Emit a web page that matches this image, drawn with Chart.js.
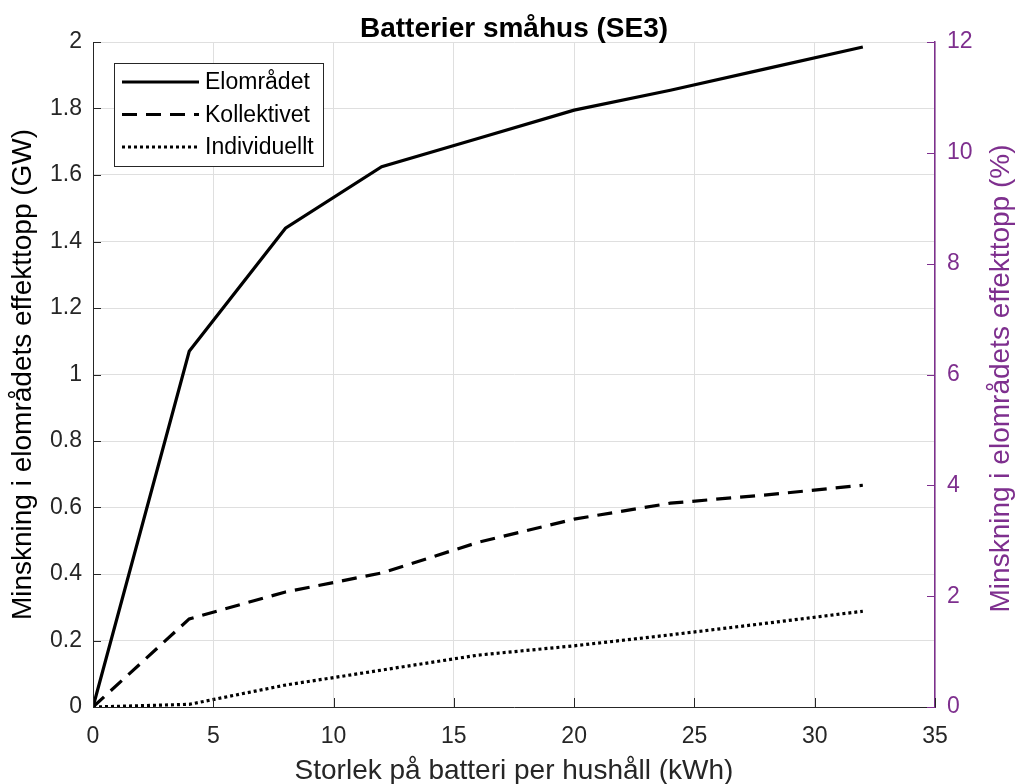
<!DOCTYPE html>
<html>
<head>
<meta charset="utf-8">
<script src="https://cdn.jsdelivr.net/npm/chart.js@4.4.1/dist/chart.umd.min.js"></script>
<style>
    html, body { margin: 0; padding: 0; background: #fff; }
    #wrap { width: 1016px; height: 784px; }
</style>
</head>
<body>
<div id="wrap"><canvas id="myLineChart"></canvas></div>
<script>
// battery size per household (kWh)
const batterySize = [0, 4, 8, 12, 16, 20, 24, 28, 32];

// reduction of peak power (GW)
const elomradet = [0, 1.07, 1.44, 1.625, 1.71, 1.795, 1.855, 1.92, 1.985];
const kollektivet = [0, 0.265, 0.346, 0.403, 0.495, 0.565, 0.613, 0.638, 0.667];
const individuellt = [0, 0.008, 0.066, 0.111, 0.156, 0.184, 0.217, 0.252, 0.288];

const seriesNames = ['Elområdet', 'Kollektivet', 'Individuellt'];

const titleText = 'Batterier småhus (SE3)';
const xTitle = 'Storlek på batteri per hushåll (kWh)';
const yTitle = 'Minskning i elområdets effekttopp (GW)';
const y2Title = 'Minskning i elområdets effekttopp (%)';

const fontFamily = "'Liberation Sans', Arial, Helvetica, sans-serif";
const purple = '#7E2F8E';
const axisColor = '#262626';
const gridColor = '#dfdfdf';

const dashes = [[], [15, 9], [3, 3]];

function toPoints(values) {
    return batterySize.map((x, i) => ({ x: x, y: values[i] }));
}

// draws title, right axis title, inward tick marks and the legend box
const matlabLook = {
    id: 'matlabLook',
    afterDraw(chart) {
        const ctx = chart.ctx;
        const area = chart.chartArea;
        const xs = chart.scales.x;
        const ys = chart.scales.y;
        const ys2 = chart.scales.y2;

        ctx.save();

        // title
        ctx.fillStyle = '#000';
        ctx.font = 'bold 28px ' + fontFamily;
        ctx.textAlign = 'center';
        ctx.textBaseline = 'alphabetic';
        ctx.fillText(titleText, (area.left + area.right) / 2, 37);

        // right axis title, reads bottom to top
        ctx.save();
        ctx.translate(1001, (area.top + area.bottom) / 2 + 4);
        ctx.rotate(-Math.PI / 2);
        ctx.fillStyle = purple;
        ctx.font = '28px ' + fontFamily;
        ctx.textBaseline = 'middle';
        ctx.fillText(y2Title, 0, 0);
        ctx.restore();

        // inward ticks
        ctx.lineWidth = 1;
        ctx.strokeStyle = axisColor;
        ctx.beginPath();
        xs.ticks.forEach(t => {
            const px = Math.round(xs.getPixelForValue(t.value)) + 0.5;
            ctx.moveTo(px, area.bottom);
            ctx.lineTo(px, area.bottom - 9);
        });
        ys.ticks.forEach(t => {
            const py = Math.round(ys.getPixelForValue(t.value)) + 0.5;
            ctx.moveTo(area.left, py);
            ctx.lineTo(area.left + 8, py);
        });
        ctx.stroke();

        ctx.strokeStyle = purple;
        ctx.beginPath();
        ys2.ticks.forEach(t => {
            const py = Math.round(ys2.getPixelForValue(t.value)) + 0.5;
            ctx.moveTo(area.right, py);
            ctx.lineTo(area.right - 8, py);
        });
        ctx.stroke();

        // legend
        const lx = 114, ly = 63, lw = 209, lh = 103;
        ctx.fillStyle = '#fff';
        ctx.fillRect(lx, ly, lw, lh);
        ctx.strokeStyle = '#262626';
        ctx.lineWidth = 1;
        ctx.strokeRect(lx + 0.5, ly + 0.5, lw, lh);

        ctx.font = '23px ' + fontFamily;
        ctx.textAlign = 'left';
        ctx.textBaseline = 'middle';
        seriesNames.forEach((name, i) => {
            const rowY = 82 + i * 32.5;
            ctx.strokeStyle = '#000';
            ctx.lineWidth = 3;
            ctx.setLineDash(dashes[i]);
            ctx.beginPath();
            ctx.moveTo(122, rowY);
            ctx.lineTo(199, rowY);
            ctx.stroke();
            ctx.setLineDash([]);
            ctx.fillStyle = '#000';
            ctx.fillText(name, 205, rowY + 1);
        });

        ctx.restore();
    }
};

let ctx = document.getElementById('myLineChart').getContext('2d');

let myLineChart = new Chart(ctx, {
    type: 'line',
    data: {
        datasets: [{
            label: seriesNames[0],
            data: toPoints(elomradet),
            borderColor: '#000',
            borderWidth: 3.2,
            borderDash: dashes[0],
            pointRadius: 0,
            tension: 0,
            yAxisID: 'y'
        }, {
            label: seriesNames[1],
            data: toPoints(kollektivet),
            borderColor: '#000',
            borderWidth: 3.2,
            borderDash: dashes[1],
            pointRadius: 0,
            tension: 0,
            yAxisID: 'y'
        }, {
            label: seriesNames[2],
            data: toPoints(individuellt),
            borderColor: '#000',
            borderWidth: 3.2,
            borderDash: dashes[2],
            pointRadius: 0,
            tension: 0,
            yAxisID: 'y'
        }]
    },
    options: {
        responsive: true,
        maintainAspectRatio: false,
        animation: false,
        layout: {
            padding: { top: 42, left: 0, right: 0, bottom: 0 }
        },
        plugins: {
            legend: { display: false },
            tooltip: { enabled: false },
            title: { display: false }
        },
        scales: {
            x: {
                type: 'linear',
                min: 0,
                max: 35,
                ticks: {
                    stepSize: 5,
                    color: axisColor,
                    padding: 16,
                    font: { family: fontFamily, size: 23 }
                },
                grid: { color: gridColor, drawTicks: false },
                border: { color: axisColor, width: 1 },
                title: {
                    display: true,
                    text: xTitle,
                    color: axisColor,
                    padding: { top: 0, bottom: 0 },
                    font: { family: fontFamily, size: 28, lineHeight: 0.9 }
                },
                afterFit(scale) { scale.height = 77; }
            },
            y: {
                type: 'linear',
                position: 'left',
                min: 0,
                max: 2,
                ticks: {
                    stepSize: 0.2,
                    color: axisColor,
                    padding: 11,
                    font: { family: fontFamily, size: 23 },
                    callback: v => String(+v.toFixed(1))
                },
                grid: { color: gridColor, drawTicks: false },
                border: { color: axisColor, width: 1 },
                title: {
                    display: true,
                    text: yTitle,
                    color: '#000',
                    padding: { top: 6, bottom: 0 },
                    font: { family: fontFamily, size: 28 }
                },
                afterFit(scale) { scale.width = 93; }
            },
            y2: {
                type: 'linear',
                position: 'right',
                min: 0,
                max: 12,
                ticks: {
                    stepSize: 2,
                    color: purple,
                    padding: 12,
                    font: { family: fontFamily, size: 23 }
                },
                grid: { drawOnChartArea: false, drawTicks: false },
                border: { color: purple, width: 1.5 },
                title: { display: false },
                afterFit(scale) { scale.width = 81; }
            }
        }
    },
    plugins: [matlabLook]
});
</script>
</body>
</html>
